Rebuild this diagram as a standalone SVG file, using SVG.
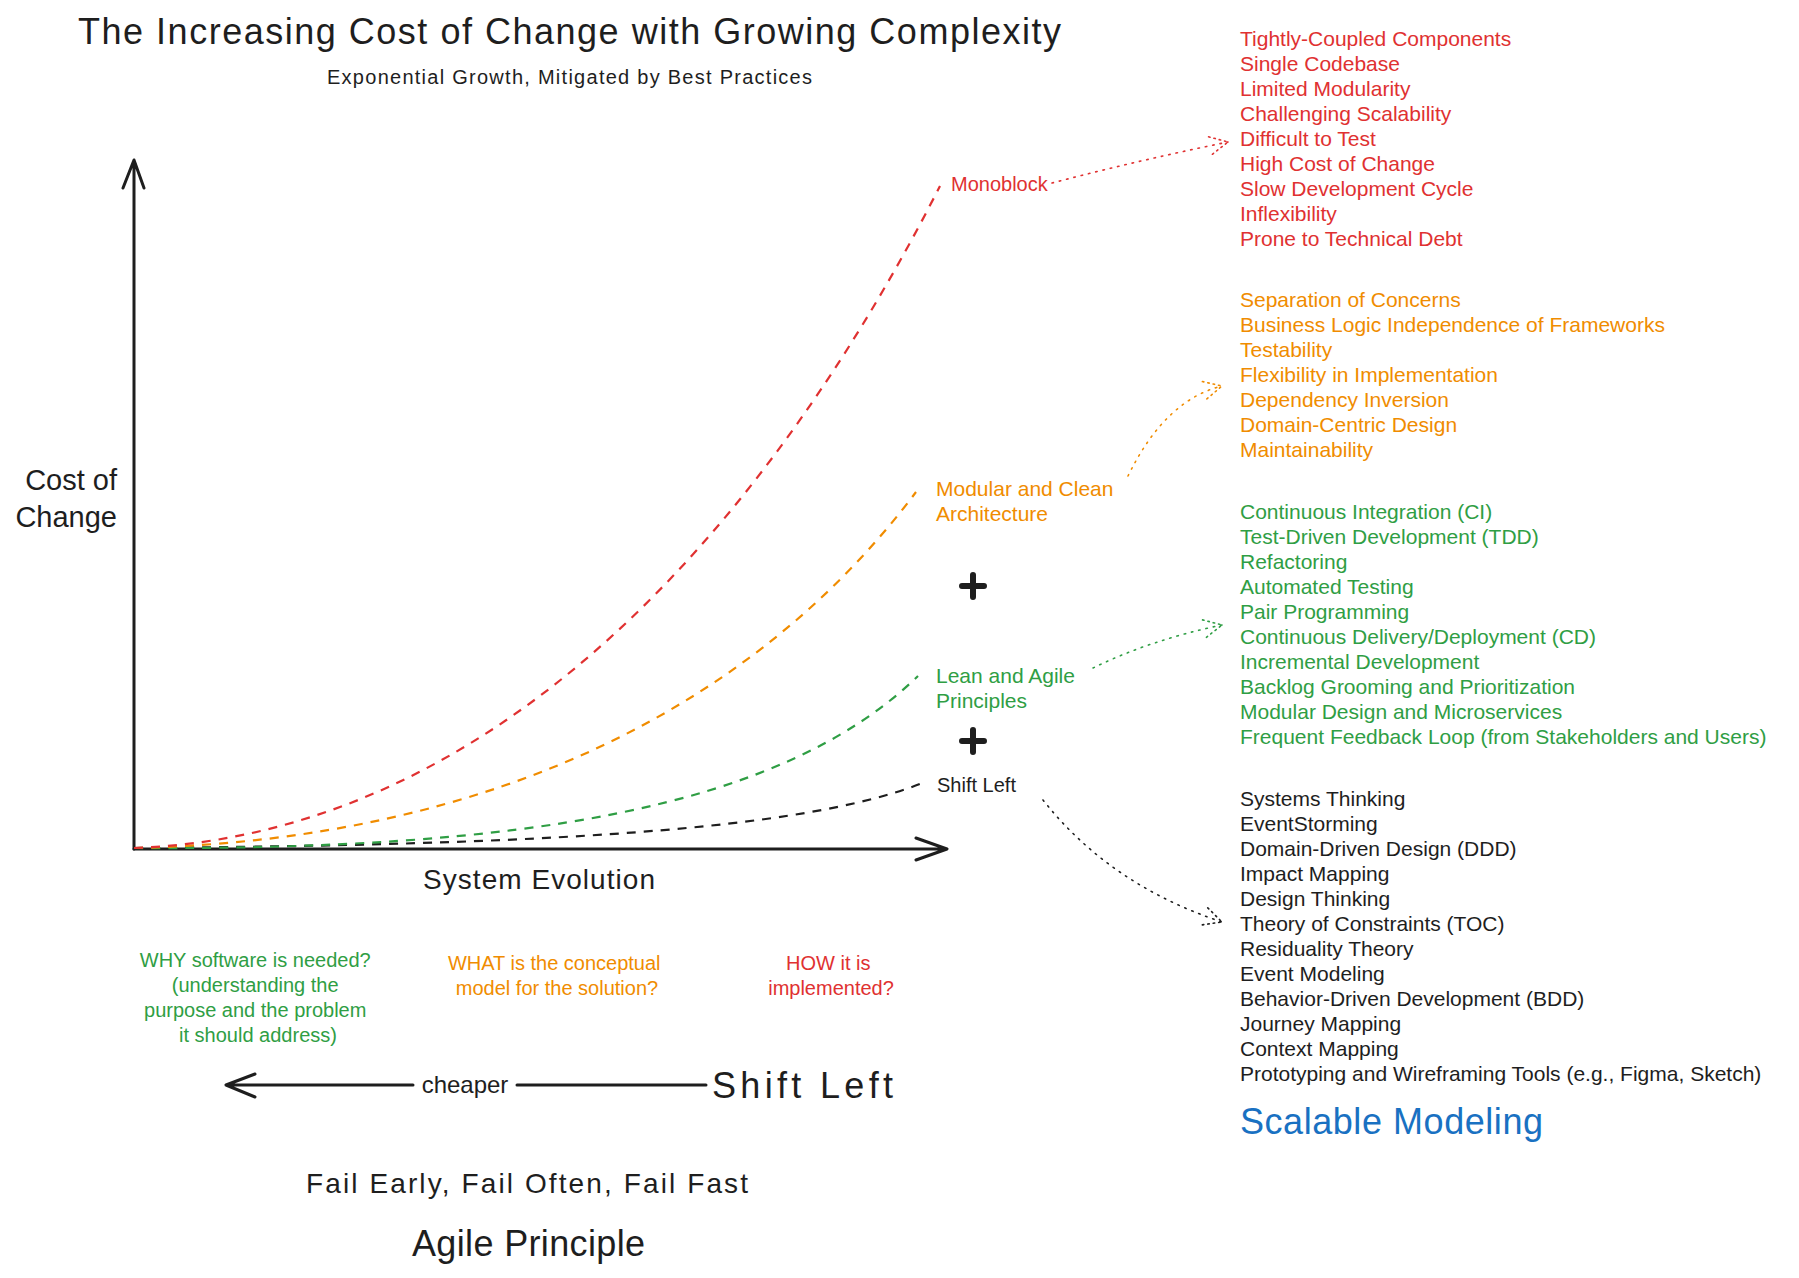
<svg xmlns="http://www.w3.org/2000/svg" width="1799" height="1278" viewBox="0 0 1799 1278">
<style>
text{font-family:"Liberation Sans","DejaVu Sans",sans-serif;}
.red{fill:#e03131}.org{fill:#f08c00}.grn{fill:#2f9e44}.blk{fill:#1e1e1e}.blu{fill:#1971c2}
.s20{font-size:20px}
.s21{font-size:21px}
.curve{fill:none;stroke-width:2.2;stroke-dasharray:9 8}
.dot{fill:none;stroke-width:1.6;stroke-dasharray:1.5 6;stroke-linecap:round}
.axis{fill:none;stroke:#1e1e1e;stroke-width:3;stroke-linecap:round;stroke-linejoin:round}
.plus{stroke:#1e1e1e;stroke-width:6;stroke-linecap:round}
</style>
<defs>
<marker id="mR" markerWidth="24" markerHeight="24" refX="20" refY="12" orient="auto" markerUnits="userSpaceOnUse"><path d="M2,3 L20,12 L2,21" fill="none" stroke="#e03131" stroke-width="1.6" stroke-dasharray="1.5 4" stroke-linecap="round"/></marker>
<marker id="mO" markerWidth="24" markerHeight="24" refX="20" refY="12" orient="auto" markerUnits="userSpaceOnUse"><path d="M2,3 L20,12 L2,21" fill="none" stroke="#f08c00" stroke-width="1.6" stroke-dasharray="1.5 4" stroke-linecap="round"/></marker>
<marker id="mG" markerWidth="24" markerHeight="24" refX="20" refY="12" orient="auto" markerUnits="userSpaceOnUse"><path d="M2,3 L20,12 L2,21" fill="none" stroke="#2f9e44" stroke-width="1.6" stroke-dasharray="1.5 4" stroke-linecap="round"/></marker>
<marker id="mK" markerWidth="24" markerHeight="24" refX="20" refY="12" orient="auto" markerUnits="userSpaceOnUse"><path d="M2,3 L20,12 L2,21" fill="none" stroke="#1e1e1e" stroke-width="1.6" stroke-dasharray="1.5 4" stroke-linecap="round"/></marker>
</defs>
<rect width="1799" height="1278" fill="#ffffff"/>

<g id="title">
<text x="78" y="44" class="blk" font-size="36" textLength="983">The Increasing Cost of Change with Growing Complexity</text>
<text x="327" y="84" class="blk" font-size="20" textLength="485">Exponential Growth, Mitigated by Best Practices</text>
</g>

<g id="axes">
<path class="axis" d="M134,849 L134,161 M123,188 L134,160 L144,188"/>
<path class="axis" d="M134,849 L946,849 M916,838 L947,849 L916,860"/>
<text x="117" y="490" class="blk" font-size="29" text-anchor="end">Cost of</text>
<text x="117" y="527" class="blk" font-size="29" text-anchor="end">Change</text>
<text x="423" y="889" class="blk" font-size="28" textLength="232">System Evolution</text>
</g>

<g id="curves">
<path class="curve" stroke="#1e1e1e" d="M134,848 C550,845 800,830 920,784"/>
<path class="curve" stroke="#2f9e44" d="M134,848 C520,850 780,810 918,676"/>
<path class="curve" stroke="#f08c00" d="M134,848 C500,840 760,700 916,492"/>
<path class="curve" stroke="#e03131" d="M134,848 C500,835 770,520 940,186"/>
</g>

<g id="monoblock"><text x="951" y="191" class="red s20">Monoblock</text></g>
<g id="modular"><text x="936" y="496" class="org s21">Modular and Clean</text><text x="936" y="521" class="org s21">Architecture</text></g>
<g id="plus1"><path class="plus" d="M962,586 L984,586 M973,575 L973,597"/></g>
<g id="lean"><text x="936" y="683" class="grn s21">Lean and Agile</text><text x="936" y="708" class="grn s21">Principles</text></g>
<g id="plus2"><path class="plus" d="M962,741 L984,741 M973,730 L973,752"/></g>
<g id="shiftleft"><text x="937" y="792" class="blk s20">Shift Left</text></g>

<g id="connectors">
<path class="dot" stroke="#e03131" d="M1052,183 Q1140,160 1228,142" marker-end="url(#mR)"/>
<path class="dot" stroke="#f08c00" d="M1128,476 Q1165,400 1222,386" marker-end="url(#mO)"/>
<path class="dot" stroke="#2f9e44" d="M1093,668 Q1150,640 1222,625" marker-end="url(#mG)"/>
<path class="dot" stroke="#1e1e1e" d="M1043,800 Q1110,885 1222,922" marker-end="url(#mK)"/>
</g>

<g id="monoblock-list" class="red s21">
<text x="1240" y="46">Tightly-Coupled Components</text>
<text x="1240" y="71">Single Codebase</text>
<text x="1240" y="96">Limited Modularity</text>
<text x="1240" y="121">Challenging Scalability</text>
<text x="1240" y="146">Difficult to Test</text>
<text x="1240" y="171">High Cost of Change</text>
<text x="1240" y="196">Slow Development Cycle</text>
<text x="1240" y="221">Inflexibility</text>
<text x="1240" y="246">Prone to Technical Debt</text>
</g>

<g id="modular-list" class="org s21">
<text x="1240" y="307">Separation of Concerns</text>
<text x="1240" y="332">Business Logic Independence of Frameworks</text>
<text x="1240" y="357">Testability</text>
<text x="1240" y="382">Flexibility in Implementation</text>
<text x="1240" y="407">Dependency Inversion</text>
<text x="1240" y="432">Domain-Centric Design</text>
<text x="1240" y="457">Maintainability</text>
</g>

<g id="lean-list" class="grn s21">
<text x="1240" y="519">Continuous Integration (CI)</text>
<text x="1240" y="544">Test-Driven Development (TDD)</text>
<text x="1240" y="569">Refactoring</text>
<text x="1240" y="594">Automated Testing</text>
<text x="1240" y="619">Pair Programming</text>
<text x="1240" y="644">Continuous Delivery/Deployment (CD)</text>
<text x="1240" y="669">Incremental Development</text>
<text x="1240" y="694">Backlog Grooming and Prioritization</text>
<text x="1240" y="719">Modular Design and Microservices</text>
<text x="1240" y="744">Frequent Feedback Loop (from Stakeholders and Users)</text>
</g>

<g id="shiftleft-list" class="blk s21">
<text x="1240" y="806">Systems Thinking</text>
<text x="1240" y="831">EventStorming</text>
<text x="1240" y="856">Domain-Driven Design (DDD)</text>
<text x="1240" y="881">Impact Mapping</text>
<text x="1240" y="906">Design Thinking</text>
<text x="1240" y="931">Theory of Constraints (TOC)</text>
<text x="1240" y="956">Residuality Theory</text>
<text x="1240" y="981">Event Modeling</text>
<text x="1240" y="1006">Behavior-Driven Development (BDD)</text>
<text x="1240" y="1031">Journey Mapping</text>
<text x="1240" y="1056">Context Mapping</text>
<text x="1240" y="1081">Prototyping and Wireframing Tools (e.g., Figma, Sketch)</text>
</g>

<g id="scalable-modeling"><text x="1240" y="1134" class="blu" font-size="36" textLength="303">Scalable Modeling</text></g>

<g id="why"><text class="grn s20" text-anchor="middle">
<tspan x="258" y="967">WHY software is needed?</tspan>
<tspan x="258" y="992">(understanding the</tspan>
<tspan x="258" y="1017">purpose and the problem</tspan>
<tspan x="258" y="1042">it should address)</tspan></text></g>
<g id="what"><text class="org s20" text-anchor="middle">
<tspan x="557" y="970">WHAT is the conceptual</tspan>
<tspan x="557" y="995">model for the solution?</tspan></text></g>
<g id="how"><text class="red s20" text-anchor="middle">
<tspan x="831" y="970">HOW it is</tspan>
<tspan x="831" y="995">implemented?</tspan></text></g>

<g id="cheaper-arrow">
<path class="axis" d="M226,1085 L413,1085 M517,1085 L706,1085 M255,1074 L226,1085 L255,1097"/>
<text x="465" y="1093" class="blk" font-size="24" text-anchor="middle">cheaper</text>
</g>
<g id="shift-left-big"><text x="712" y="1098" class="blk" font-size="36" textLength="181">Shift Left</text></g>
<g id="fail"><text x="306" y="1193" class="blk" font-size="28" textLength="442">Fail Early, Fail Often, Fail Fast</text></g>
<g id="agile"><text x="412" y="1256" class="blk" font-size="36" textLength="233">Agile Principle</text></g>
</svg>
